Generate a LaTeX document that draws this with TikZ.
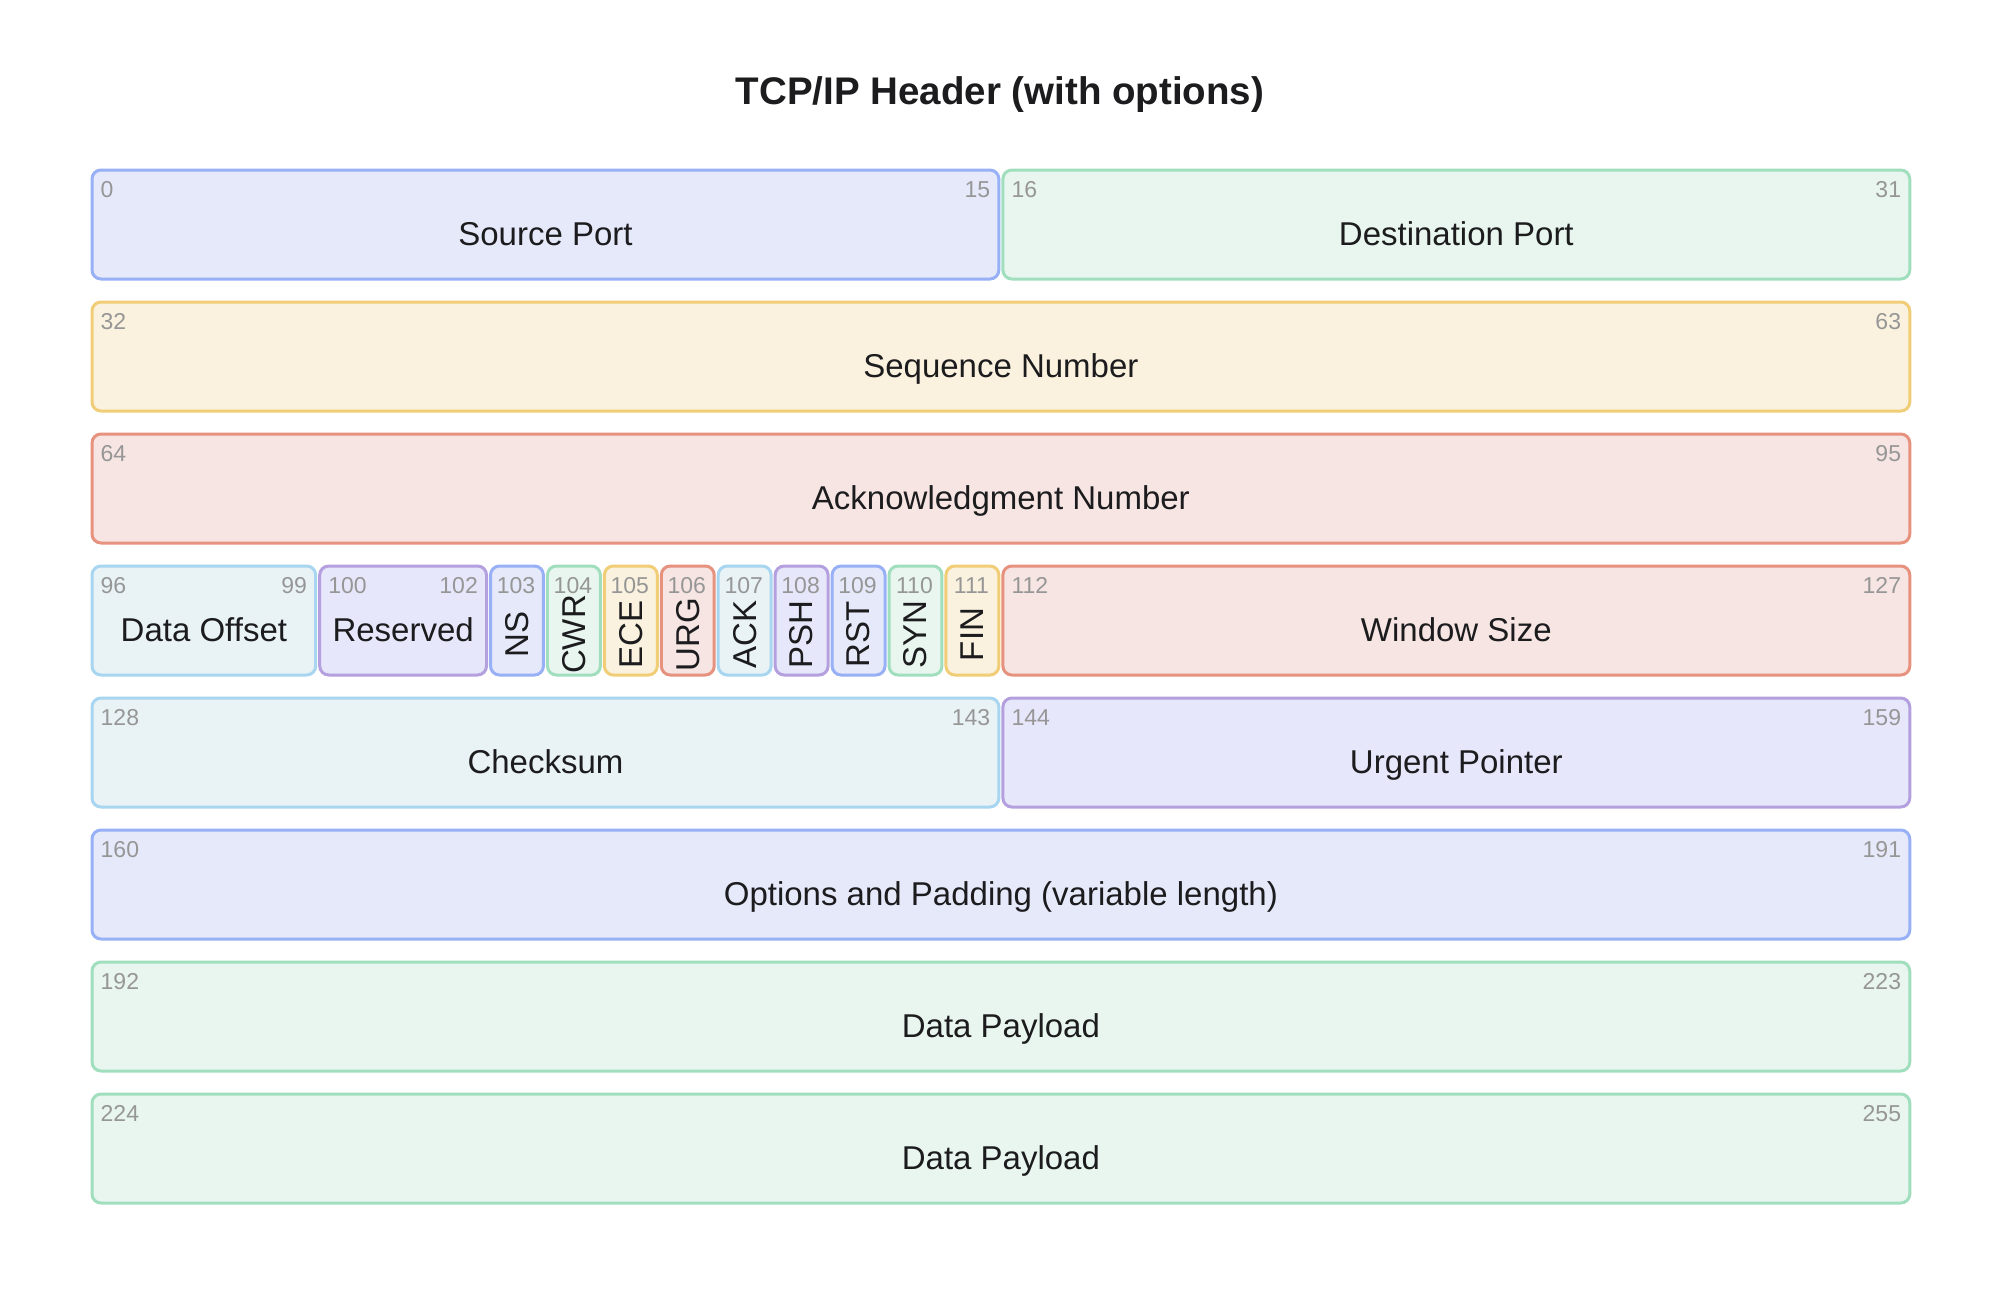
\documentclass[tikz,border=0pt]{standalone}
\usepackage{fontspec}
\setmainfont{Liberation Sans}

\definecolor{bluefill}{RGB}{230,233,250}
\definecolor{blueline}{RGB}{152,176,245}
\definecolor{greenfill}{RGB}{232,246,239}
\definecolor{greenline}{RGB}{160,222,190}
\definecolor{yellowfill}{RGB}{250,242,222}
\definecolor{yellowline}{RGB}{240,205,118}
\definecolor{redfill}{RGB}{246,229,226}
\definecolor{redline}{RGB}{230,146,126}
\definecolor{purplefill}{RGB}{230,231,250}
\definecolor{purpleline}{RGB}{180,160,222}
\definecolor{skyfill}{RGB}{233,243,246}
\definecolor{skyline}{RGB}{168,213,240}
\definecolor{labeltext}{RGB}{28,28,30}
\definecolor{bittext}{RGB}{150,150,150}

\tikzset{
    field/.style={draw, line width=3pt, rounded corners=9pt, anchor=north west,
        inner sep=0pt, minimum height=109pt},
    bluebox/.style={field, draw=blueline, fill=bluefill},
    greenbox/.style={field, draw=greenline, fill=greenfill},
    yellowbox/.style={field, draw=yellowline, fill=yellowfill},
    redbox/.style={field, draw=redline, fill=redfill},
    purplebox/.style={field, draw=purpleline, fill=purplefill},
    skybox/.style={field, draw=skyline, fill=skyfill},
    fieldlabel/.style={font=\fontsize{33}{39}\selectfont, text=labeltext, inner sep=0pt},
    bitlabel/.style={font=\fontsize{23}{27}\selectfont, text=bittext, inner sep=0pt},
}

\begin{document}
\begin{tikzpicture}[x=1pt,y=-1pt]
    \useasboundingbox[fill=white] (0,0) rectangle (2000,1293);
    \node[font=\bfseries\fontsize{38.5}{46}\selectfont, text=labeltext, anchor=base]
        (title) at (1000,104) {TCP/IP Header (with options)};

    % fields: name/first bit/last bit/style/label
    \foreach \nm/\lo/\hi/\sty/\txt in {
        srcport/0/15/bluebox/Source Port,
        dstport/16/31/greenbox/Destination Port,
        seqnum/32/63/yellowbox/Sequence Number,
        acknum/64/95/redbox/Acknowledgment Number,
        dataoff/96/99/skybox/Data Offset,
        reserved/100/102/purplebox/Reserved,
        winsize/112/127/redbox/Window Size,
        checksum/128/143/skybox/Checksum,
        urgptr/144/159/purplebox/Urgent Pointer,
        options/160/191/bluebox/{Options and Padding (variable length)},
        payloadA/192/223/greenbox/Data Payload,
        payloadB/224/255/greenbox/Data Payload}
    {
        \pgfmathsetmacro{\bx}{90.5+mod(\lo,32)*56.93}
        \pgfmathsetmacro{\by}{168.5+int(\lo/32)*132}
        \pgfmathsetmacro{\bw}{(\hi-\lo+1)*56.93-4}
        \node[\sty, minimum width=\bw pt] (\nm) at (\bx,\by) {};
        \node[bitlabel, anchor=north west] at ([xshift=10pt,yshift=-13pt]\nm.north west) {\lo};
        \node[bitlabel, anchor=north east] at ([xshift=-10pt,yshift=-13pt]\nm.north east) {\hi};
        \node[fieldlabel, anchor=base] at ([yshift=-21pt]\nm.center) {\txt};
    }

    % one-bit flags
    \foreach \nm/\lo/\sty/\txt in {
        ns/103/bluebox/NS, cwr/104/greenbox/CWR, ece/105/yellowbox/ECE,
        urg/106/redbox/URG, ackflag/107/skybox/ACK, psh/108/purplebox/PSH,
        rst/109/bluebox/RST, syn/110/greenbox/SYN, fin/111/yellowbox/FIN}
    {
        \pgfmathsetmacro{\bx}{90.5+mod(\lo,32)*56.93}
        \pgfmathsetmacro{\by}{168.5+int(\lo/32)*132}
        \node[\sty, minimum width=52.93pt] (\nm) at (\bx,\by) {};
        \node[bitlabel, anchor=north] at ([xshift=-1pt,yshift=-13pt]\nm.north) {\lo};
        \node[fieldlabel, rotate=90] at ([yshift=-14pt]\nm.center) {\txt};
    }
\end{tikzpicture}
\end{document}
